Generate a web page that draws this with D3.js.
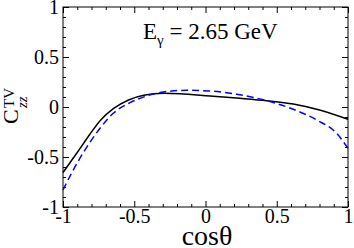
<!DOCTYPE html>
<html><head><meta charset="utf-8">
<script src="https://cdn.jsdelivr.net/npm/d3@7"></script>
<style>body{margin:0;background:#fff}svg{display:block}text{font-family:"Liberation Serif","Times New Roman",serif;fill:#000}</style>
</head><body>
<svg id="c" width="354" height="248"></svg>
<script>
const cosTheta = [-1.0,-0.904,-0.81,-0.74,-0.647,-0.54,-0.425,-0.296,-0.179,0.032,0.242,0.43,0.616,0.80,1.0];
const solidVals = [-0.655,-0.463,-0.27,-0.137,-0.017,0.07,0.12,0.137,0.133,0.11,0.087,0.063,0.03,-0.03,-0.123];
const cosThetaDash = [-1.0,-0.928,-0.834,-0.74,-0.647,-0.53,-0.413,-0.296,-0.132,0.032,0.219,0.43,0.616,0.78,0.92,1.0];
const dashVals = [-0.83,-0.63,-0.403,-0.213,-0.063,0.043,0.11,0.15,0.167,0.16,0.127,0.063,-0.023,-0.13,-0.263,-0.413];
const xTicks = [-1,-0.5,0,0.5,1];
const yTicks = [-1,-0.5,0,0.5,1];
const xTickLabels = ["-1","-0.5","0","0.5","1"];
const yTickLabels = ["-1","-0.5","0","0.5","1"];

const L=63,R=348,T=7,B=207;
const svg=d3.select("#c");
const x=d3.scaleLinear().domain([-1,1]).range([L,R]);
const y=d3.scaleLinear().domain([-1,1]).range([B,T]);
const minor=d3.range(-10,11).map(d=>d/10).filter(d=>Math.abs(d*2-Math.round(d*2))>1e-6);

function ax(gen,tr,vals,size,labels){
  const g=svg.append("g").attr("transform",tr).call(gen.tickValues(vals).tickSize(size).tickFormat((d,i)=>labels?labels[i]:""));
  g.select(".domain").remove();
  g.selectAll("line").attr("stroke","#000").attr("stroke-width",1);
  return g;
}
const bx=ax(d3.axisBottom(x),`translate(0,${B})`,xTicks,-6,xTickLabels);
bx.selectAll("text").attr("font-size",20).attr("y",2).attr("dy","0.71em").style("font-family",'"Liberation Serif",serif');
ax(d3.axisBottom(x),`translate(0,${B})`,minor,-3,null).selectAll("text").remove();
ax(d3.axisTop(x),`translate(0,${T})`,xTicks,-6,null).selectAll("text").remove();
ax(d3.axisTop(x),`translate(0,${T})`,minor,-3,null).selectAll("text").remove();
const ly=ax(d3.axisLeft(y),`translate(${L},0)`,yTicks,-6,yTickLabels);
ly.selectAll("text").attr("font-size",20).attr("x",-4).attr("dy","0.34em").style("font-family",'"Liberation Serif",serif');
ax(d3.axisLeft(y),`translate(${L},0)`,minor,-3,null).selectAll("text").remove();
ax(d3.axisRight(y),`translate(${R},0)`,yTicks,-6,null).selectAll("text").remove();
ax(d3.axisRight(y),`translate(${R},0)`,minor,-3,null).selectAll("text").remove();
svg.append("rect").attr("x",L).attr("y",T).attr("width",R-L).attr("height",B-T).attr("fill","none").attr("stroke","#000").attr("stroke-width",1);

const line=d3.line().x(d=>x(d[0])).y(d=>y(d[1])).curve(d3.curveMonotoneX);
svg.append("path").datum(cosTheta.map((c,i)=>[c,solidVals[i]])).attr("d",line)
  .attr("fill","none").attr("stroke","#000").attr("stroke-width",1.5);
svg.append("path").datum(cosThetaDash.map((c,i)=>[c,dashVals[i]])).attr("d",line)
  .attr("fill","none").attr("stroke","#0000ff").attr("stroke-width",1.5).attr("stroke-dasharray","7,4");

// title
const t=svg.append("text").attr("x",143).attr("y",39).attr("font-size",23);
t.append("tspan").text("E");
t.append("tspan").attr("font-size",15).attr("dy",6).text("γ");
t.append("tspan").attr("dy",-6).text(" = 2.65 GeV");

// x label
svg.append("text").attr("x",207).attr("y",245).attr("text-anchor","middle").attr("font-size",28).text("cosθ");

// y label
const g=svg.append("g").attr("transform","rotate(-90)");
g.append("text").attr("x",-124).attr("y",18).attr("font-size",22).text("C");
g.append("text").attr("x",-108).attr("y",14).attr("font-size",15).text("TV");
g.append("text").attr("x",-108).attr("y",27).attr("font-size",15).attr("font-style","italic").text("zz");
</script>
</body></html>
